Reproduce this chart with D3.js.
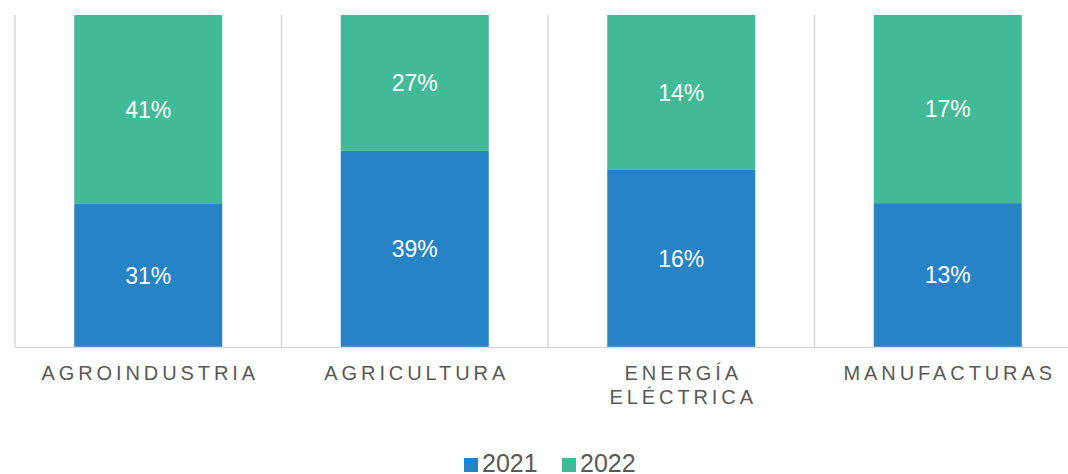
<!DOCTYPE html>
<html><head><meta charset="utf-8">
<script src="https://cdn.jsdelivr.net/npm/d3@7"></script>
<style>body{margin:0;background:#fff}svg{display:block}</style>
</head><body>
<svg id="c" width="1068" height="474"></svg>
<script>
const categories = ["AGROINDUSTRIA", "AGRICULTURA", "ENERGÍA ELÉCTRICA", "MANUFACTURAS"];
const categoryLines = [["AGROINDUSTRIA"], ["AGRICULTURA"], ["ENERGÍA", "ELÉCTRICA"], ["MANUFACTURAS"]];
const seriesNames = ["2021", "2022"];
const values2021 = [31, 39, 16, 13];
const values2022 = [41, 27, 14, 17];
const colors = ["#2683C6", "#42BA97"];

const svg = d3.select("#c");
const font = "'Liberation Sans', Arial, sans-serif";
const x = d3.scaleBand().domain(categories).range([15, 1081]).paddingInner(0).paddingOuter(0);
const y = d3.scaleLinear().domain([0, 1]).range([347, 15]);
const barW = 148;

const data = categories.map((c, i) => ({cat: c, "2021": values2021[i], "2022": values2022[i]}));
const stack = d3.stack().keys(seriesNames).offset(d3.stackOffsetExpand);
const series = stack(data);

// vertical gridlines (category separators)
svg.append("g").selectAll("line").data(categories).join("line")
  .attr("x1", d => x(d)).attr("x2", d => x(d))
  .attr("y1", 15).attr("y2", 347)
  .attr("stroke", "#d9d9d9").attr("stroke-width", 1.5);

series.forEach((s, si) => {
  const g = svg.append("g");
  g.selectAll("rect").data(s).join("rect")
    .attr("x", d => x(d.data.cat) + x.bandwidth() / 2 - barW / 2)
    .attr("width", barW)
    .attr("y", d => y(d[1]))
    .attr("height", d => y(d[0]) - y(d[1]))
    .attr("fill", colors[si]);
  g.selectAll("text").data(s).join("text")
    .attr("x", d => x(d.data.cat) + x.bandwidth() / 2)
    .attr("y", d => (y(d[0]) + y(d[1])) / 2)
    .attr("dy", "0.36em")
    .attr("text-anchor", "middle")
    .attr("font-family", font).attr("font-size", 23).attr("fill", "#fff")
    .text(d => d.data[s.key] + "%");
});

// x axis line
svg.append("line").attr("x1", 15).attr("x2", 1068).attr("y1", 347.5).attr("y2", 347.5)
  .attr("stroke", "#d9d9d9").attr("stroke-width", 1.5);

// category labels
categories.forEach((c, i) => {
  const t = svg.append("text")
    .attr("text-anchor", "middle")
    .attr("font-family", font).attr("font-size", 20).attr("fill", "#595959")
    .attr("letter-spacing", "3.9px");
  categoryLines[i].forEach((ln, j) => {
    t.append("tspan").attr("x", x(c) + x.bandwidth() / 2 + 2).attr("y", 380 + j * 24).text(ln);
  });
});

// legend
const leg = svg.append("g");
const legItems = [{name: seriesNames[0], x: 464}, {name: seriesNames[1], x: 562}];
legItems.forEach((it, i) => {
  leg.append("rect").attr("x", it.x).attr("y", 458).attr("width", 14).attr("height", 14).attr("fill", colors[i]);
  leg.append("text").attr("x", it.x + 18).attr("y", 472)
    .attr("font-family", font).attr("font-size", 25).attr("fill", "#595959").text(it.name);
});
</script>
</body></html>
